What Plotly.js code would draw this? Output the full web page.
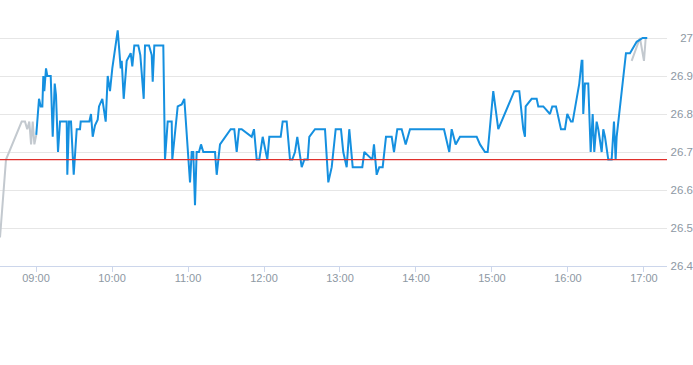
<!DOCTYPE html>
<html>
<head>
<meta charset="utf-8">
<script src="https://cdn.plot.ly/plotly-3.0.1.min.js"></script>
<style>html,body{margin:0;padding:0;background:#fff;}#chart{width:693px;height:365px;}</style>
</head>
<body>
<div id="chart"></div>
<script>
var day = "2024-01-02 ";

var preTimes = ["08:31:34","08:36:18","08:48:42","08:51:18","08:53:06","08:54:42","08:56:06","08:57:24","08:58:42","09:00:12"];
var preValues = [26.475,26.68,26.78,26.78,26.76,26.78,26.72,26.78,26.72,26.745];

var mainTimes = ["09:00:12","09:02:22","09:03:42","09:05:00","09:05:46","09:06:33","09:07:54","09:08:55","09:11:36","09:13:11",
"09:14:46","09:15:47","09:17:22","09:18:57","09:24:14","09:24:43","09:26:03","09:27:38","09:29:46","09:32:08",
"09:34:44","09:35:17","09:42:05","09:43:25","09:44:46","09:46:35","09:48:42","09:49:44","09:52:21","09:55:01",
"09:56:36","09:58:25","10:00:14","10:02:22","10:04:30","10:06:52","10:07:40","10:09:14","10:11:36","10:14:46",
"10:16:02","10:17:37","10:20:46","10:22:21","10:25:02","10:26:03","10:29:13","10:31:21","10:32:08","10:33:24",
"10:40:30","10:41:50","10:43:58","10:47:08","10:47:36","10:51:52","10:55:02","10:57:05","11:01:35","11:02:55",
"11:04:10","11:05:31","11:06:50","11:08:41","11:10:16","11:12:05","11:21:19","11:22:40","11:25:16","11:33:42",
"11:36:33","11:38:27","11:40:16","11:42:24","11:50:17","11:52:06","11:54:14","11:56:17","11:58:58","12:02:37",
"12:04:12","12:13:11","12:14:45","12:17:55","12:20:32","12:22:21","12:24:28","12:26:17","12:29:46","12:31:49",
"12:34:30","12:35:46","12:40:16","12:48:10","12:50:46","12:53:27","12:56:36","13:00:47","13:02:36","13:05:17",
"13:07:20","13:10:02","13:17:37","13:19:12","13:25:31","13:26:50","13:28:58","13:31:01","13:33:42","13:36:19",
"13:40:49","13:42:38","13:45:14","13:48:42","13:51:52","13:55:16","14:22:06","14:26:17","14:28:11","14:31:20",
"14:34:44","14:47:55","14:50:32","14:54:28","14:56:36","15:01:01","15:04:58","15:17:37","15:21:34","15:24:43",
"15:26:03","15:26:36","15:31:20","15:35:17","15:36:33","15:40:30","15:45:47","15:47:36","15:50:32","15:54:28",
"15:57:37","15:59:27","16:02:22","16:03:42","16:08:55","16:10:49","16:11:25","16:12:04","16:13:24","16:16:01",
"16:17:55","16:19:30","16:20:46","16:22:38","16:23:55","16:26:36","16:27:53","16:29:13","16:31:49","16:34:30",
"16:36:19","16:37:38","16:38:26","16:45:47","16:48:57","16:54:14","16:58:57","17:02:36"];
var mainValues = [26.745,26.84,26.82,26.82,26.90,26.86,26.92,26.90,26.90,26.74,
26.88,26.85,26.70,26.78,26.78,26.64,26.78,26.78,26.64,26.76,
26.76,26.78,26.78,26.80,26.74,26.77,26.785,26.82,26.84,26.78,
26.90,26.86,26.92,26.965,27.02,26.92,26.94,26.84,26.94,26.96,
26.925,26.98,26.98,26.955,26.84,26.98,26.98,26.955,26.885,26.98,
26.98,26.68,26.78,26.78,26.68,26.82,26.825,26.84,26.62,26.70,
26.70,26.56,26.70,26.70,26.72,26.70,26.70,26.64,26.72,26.76,
26.76,26.70,26.76,26.76,26.74,26.76,26.68,26.68,26.74,26.68,
26.74,26.74,26.78,26.78,26.68,26.68,26.70,26.74,26.66,26.68,
26.68,26.74,26.76,26.76,26.62,26.66,26.76,26.76,26.70,26.66,
26.76,26.66,26.66,26.70,26.68,26.72,26.64,26.66,26.66,26.74,
26.74,26.70,26.76,26.76,26.72,26.76,26.76,26.70,26.76,26.72,
26.74,26.74,26.72,26.70,26.70,26.86,26.76,26.86,26.86,26.76,
26.74,26.82,26.84,26.84,26.82,26.82,26.80,26.82,26.82,26.76,
26.76,26.80,26.78,26.78,26.88,26.94,26.94,26.80,26.88,26.88,
26.70,26.80,26.70,26.78,26.76,26.70,26.76,26.74,26.68,26.68,
26.78,26.68,26.74,26.96,26.96,26.99,27.0,27.0];

var postTimes = ["16:50:17","16:56:50","17:00:00","17:01:22"];
var postValues = [26.94,27.0,26.94,27.0];

var prevClose = 26.68;

var yTicks = [26.4,26.5,26.6,26.7,26.8,26.9,27];
var yTickText = ["26.4","26.5","26.6","26.7","26.8","26.9","27"];
var xTickLabels = ["09:00","10:00","11:00","12:00","13:00","14:00","15:00","16:00","17:00"];
var xRange = ["08:31:34","17:18:11"];
var yRange = [26.4,27.1];

function full(a){ return a.map(function(t){ return day + t; }); }

var traces = [
  {x: full(preTimes), y: preValues, type:"scatter", mode:"lines", line:{color:"#c3c9cf", width:2}, hoverinfo:"skip"},
  {x: full(postTimes), y: postValues, type:"scatter", mode:"lines", line:{color:"#c3c9cf", width:2}, hoverinfo:"skip"},
  {x: full(mainTimes), y: mainValues, type:"scatter", mode:"lines", line:{color:"#1590e0", width:2}, hoverinfo:"skip"}
];

var layout = {
  width:693, height:365,
  margin:{l:0, r:0, t:0, b:99},
  paper_bgcolor:"#ffffff", plot_bgcolor:"#ffffff",
  showlegend:false,
  font:{family:"Liberation Sans, Arial, sans-serif", size:11, color:"#8d98a3"},
  xaxis:{
    type:"date",
    domain:[0, 667/693],
    range: full(xRange),
    tickvals: full(xTickLabels),
    ticktext: xTickLabels,
    showgrid:false,
    zeroline:false,
    showline:true, linecolor:"#ccd6eb", linewidth:1,
    ticks:"outside", ticklen:5, tickcolor:"#ccd6eb", tickwidth:1,
    ticklabelstandoff:-3,
    tickfont:{size:11, color:"#8d98a3"}
  },
  yaxis:{
    anchor:"free",
    position:1,
    side:"left",
    range:yRange,
    tickvals:yTicks,
    ticktext:yTickText,
    showgrid:true, gridcolor:"#e6e6e6", gridwidth:1,
    zeroline:false, showline:false,
    ticks:"",
    tickfont:{size:11.5, color:"#8d98a3"}
  },
  shapes:[{type:"line", xref:"x domain", x0:0, x1:1, yref:"y", y0:prevClose, y1:prevClose, line:{color:"#e0302c", width:1.2}}]
};

Plotly.newPlot("chart", traces, layout, {displayModeBar:false, staticPlot:true});
</script>
</body>
</html>
